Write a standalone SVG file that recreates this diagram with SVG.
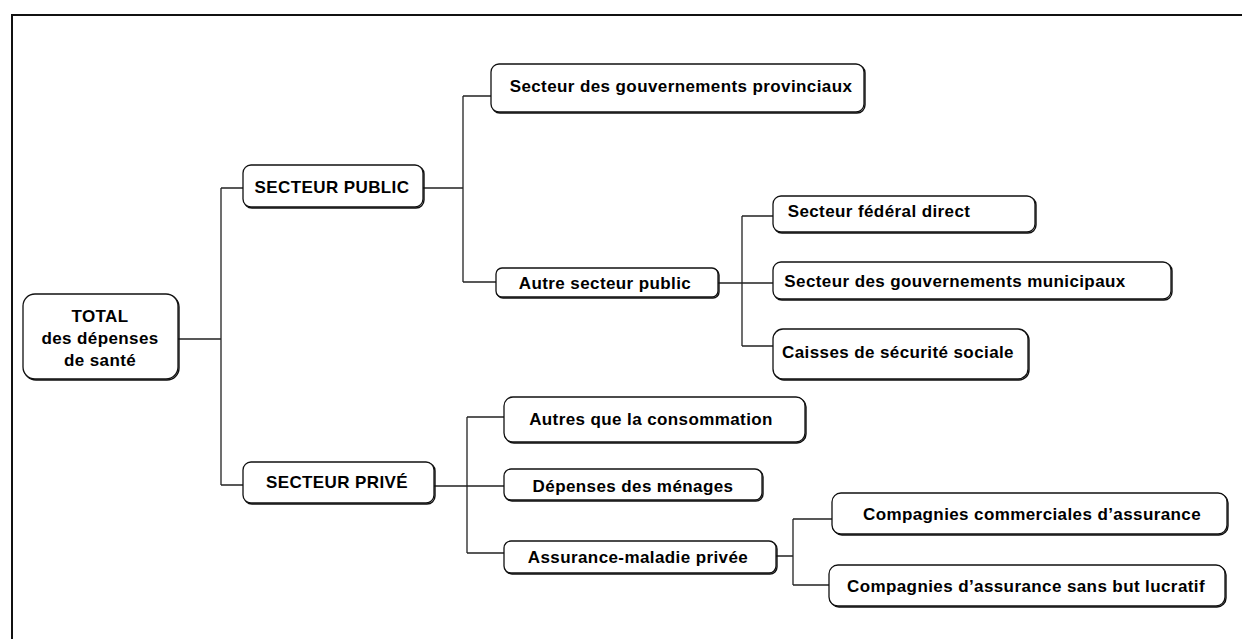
<svg xmlns="http://www.w3.org/2000/svg" width="1242" height="639" viewBox="0 0 1242 639">
<style>
.sh{fill:none;stroke:#111;stroke-width:1.4}
.bx{fill:#fff;stroke:#111;stroke-width:1.3}
.t{font-family:"Liberation Sans",Arial,Helvetica,sans-serif;font-weight:bold;font-size:17px;letter-spacing:0.4px;fill:#000;text-anchor:middle}
.c{fill:none;stroke:#222;stroke-width:1.3}
</style>
<rect x="0" y="0" width="1242" height="639" fill="#fff"/>
<path d="M12,639 V15 H1242" fill="none" stroke="#111" stroke-width="2"/>
<g id="connectors" class="c">
<path d="M178,339 H221 M221,188 V485 M221,188 H243 M221,485 H243"/>
<path d="M423,188 H463 M463,96 V282 M463,96 H491 M463,282 H496"/>
<path d="M718,283 H773 M742,216 V346 M742,216 H773 M742,346 H773"/>
<path d="M434,486 H467 M467,417 V553 M467,417 H504 M467,486 H504 M467,553 H504"/>
<path d="M776,556 H793 M793,519 V585 M793,519 H832 M793,585 H829"/>
</g>
<g id="total">
<rect class="sh" x="24" y="295" width="155" height="85" rx="12"/>
<rect class="bx" x="23" y="294" width="155" height="85" rx="12"/>
<text class="t" x="100" y="322">TOTAL</text>
<text class="t" x="100" y="344">des dépenses</text>
<text class="t" x="100" y="366">de santé</text>
</g>
<g id="public">
<rect class="sh" x="244" y="166" width="180" height="42" rx="8"/>
<rect class="bx" x="243" y="165" width="180" height="42" rx="8"/>
<text class="t" x="332" y="193">SECTEUR PUBLIC</text>
</g>
<g id="provincial">
<rect class="sh" x="492" y="65" width="373" height="48" rx="8"/>
<rect class="bx" x="491" y="64" width="373" height="48" rx="8"/>
<text class="t" x="681" y="92">Secteur des gouvernements provinciaux</text>
</g>
<g id="autre-public">
<rect class="sh" x="497" y="269" width="222" height="29" rx="6"/>
<rect class="bx" x="496" y="268" width="222" height="29" rx="6"/>
<text class="t" x="605" y="289">Autre secteur public</text>
</g>
<g id="federal">
<rect class="sh" x="774" y="197" width="262" height="36" rx="8"/>
<rect class="bx" x="773" y="196" width="262" height="36" rx="8"/>
<text class="t" x="879" y="217">Secteur fédéral direct</text>
</g>
<g id="municipal">
<rect class="sh" x="774" y="263" width="398" height="37" rx="8"/>
<rect class="bx" x="773" y="262" width="398" height="37" rx="8"/>
<text class="t" x="955" y="287">Secteur des gouvernements municipaux</text>
</g>
<g id="caisses">
<rect class="sh" x="774" y="330" width="255" height="50" rx="10"/>
<rect class="bx" x="773" y="329" width="255" height="50" rx="10"/>
<text class="t" x="898" y="358">Caisses de sécurité sociale</text>
</g>
<g id="prive">
<rect class="sh" x="244" y="463" width="191" height="41" rx="8"/>
<rect class="bx" x="243" y="462" width="191" height="41" rx="8"/>
<text class="t" x="337" y="488">SECTEUR PRIVÉ</text>
</g>
<g id="autres-conso">
<rect class="sh" x="505" y="398" width="301" height="45" rx="9"/>
<rect class="bx" x="504" y="397" width="301" height="45" rx="9"/>
<text class="t" x="651" y="425">Autres que la consommation</text>
</g>
<g id="menages">
<rect class="sh" x="505" y="470" width="258" height="31" rx="7"/>
<rect class="bx" x="504" y="469" width="258" height="31" rx="7"/>
<text class="t" x="633" y="492">Dépenses des ménages</text>
</g>
<g id="assurance">
<rect class="sh" x="505" y="542" width="272" height="32" rx="7"/>
<rect class="bx" x="504" y="541" width="272" height="32" rx="7"/>
<text class="t" x="638" y="563">Assurance-maladie privée</text>
</g>
<g id="commerciales">
<rect class="sh" x="833" y="494" width="395" height="41" rx="9"/>
<rect class="bx" x="832" y="493" width="395" height="41" rx="9"/>
<text class="t" x="1032" y="520">Compagnies commerciales d’assurance</text>
</g>
<g id="sans-but">
<rect class="sh" x="830" y="566" width="396" height="41" rx="9"/>
<rect class="bx" x="829" y="565" width="396" height="41" rx="9"/>
<text class="t" x="1026" y="592">Compagnies d’assurance sans but lucratif</text>
</g>
</svg>
